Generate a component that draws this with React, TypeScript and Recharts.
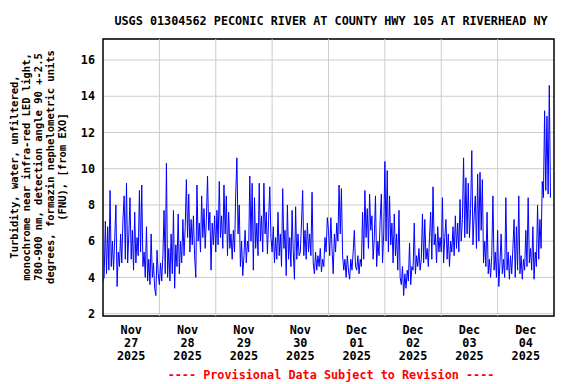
import {
  LineChart,
  Line,
  XAxis,
  YAxis,
  CartesianGrid,
  ReferenceLine,
  ReferenceArea,
} from "recharts";

const FONT = "'DejaVu Sans Mono', monospace";
const BLUE = "#0000ff";
const GRID = "#cccccc";

const TITLE = "USGS 01304562 PECONIC RIVER AT COUNTY HWY 105 AT RIVERHEAD NY";
const FOOTER = "---- Provisional Data Subject to Revision ----";
const Y_LABEL = [
  "Turbidity, water, unfiltered,",
  "monochrome near infra-red LED light,",
  "780-900 nm, detection angle 90 +-2.5",
  "degrees, formazin nephelometric units",
  "(FNU), [from EXO]",
];

// hours since Nov 27 00:00
const X_TICKS = [12, 36, 60, 84, 108, 132, 156, 180];
const DAY_LABELS = [
  ["Nov", "27", "2025"],
  ["Nov", "28", "2025"],
  ["Nov", "29", "2025"],
  ["Nov", "30", "2025"],
  ["Dec", "01", "2025"],
  ["Dec", "02", "2025"],
  ["Dec", "03", "2025"],
  ["Dec", "04", "2025"],
];
const MIDNIGHTS = [24, 48, 72, 96, 120, 144, 168];
const Y_TICKS = [2, 4, 6, 8, 10, 12, 14, 16];
const Y_MIN = 1.87;
const Y_MAX = 17.16;

// turbidity (FNU), one value per half hour
const NOV27 = [
  3.8, 4.0, 7.1, 4.2, 6.8, 4.4, 8.8, 4.6, 6.0, 4.4, 6.2, 8.0, 3.5, 5.4, 4.6, 6.4, 4.8, 7.2, 8.5, 5.0, 9.2, 4.8, 6.4, 8.4,
  5.0, 6.6, 4.4, 7.6, 4.8, 6.2, 5.2, 8.8, 5.4, 9.1, 4.6, 5.4, 4.0, 6.8, 3.8, 5.0, 3.6, 6.4, 4.0, 4.8, 3.4, 3.0, 5.5, 4.2,
];
const NOV28 = [
  3.6, 4.8, 3.8, 5.2, 7.7, 4.2, 10.3, 4.0, 5.6, 3.8, 6.4, 4.2, 7.7, 3.4, 5.8, 4.6, 7.5, 4.2, 6.0, 4.8, 7.2, 5.2, 6.8, 9.4,
  6.2, 8.6, 5.4, 7.2, 5.8, 7.4, 5.2, 4.0, 9.1, 6.0, 7.0, 5.4, 8.5, 6.2, 7.8, 5.6, 7.2, 9.6, 6.6, 7.6, 4.4, 7.0, 5.8, 7.4,
];
const NOV29 = [
  5.4, 7.7, 5.8, 9.3, 6.2, 7.4, 5.6, 9.1, 6.4, 8.5, 5.2, 7.6, 5.6, 6.4, 5.0, 6.6, 5.4, 8.6, 10.6, 6.4, 8.0, 4.6, 6.0, 4.1,
  5.2, 6.6, 4.8, 6.0, 5.4, 9.6, 6.0, 9.2, 4.4, 8.4, 5.6, 7.0, 5.2, 9.2, 6.0, 7.4, 5.4, 9.2, 6.4, 7.6, 5.3, 7.2, 9.0, 6.2,
];
const NOV30 = [
  5.4, 6.8, 4.8, 6.2, 5.0, 7.6, 5.2, 6.4, 4.6, 8.9, 5.6, 6.6, 4.1, 8.0, 5.0, 6.2, 4.6, 7.7, 5.4, 3.9, 7.9, 5.0, 6.4, 5.2,
  5.4, 7.0, 8.8, 5.2, 6.6, 5.0, 7.0, 5.4, 6.4, 5.2, 8.7, 4.8, 4.2, 5.4, 4.4, 5.2, 4.6, 5.6, 4.3, 5.0, 4.6, 6.2, 5.4, 7.3,
];
const DEC01 = [
  6.6, 5.2, 7.3, 5.6, 4.2, 6.4, 5.4, 7.0, 6.0, 9.1, 6.4, 8.9, 5.2, 4.4, 5.0, 4.0, 5.2, 4.4, 3.9, 5.0, 4.4, 5.4, 6.6, 4.6,
  4.4, 5.2, 4.2, 5.0, 4.6, 7.6, 5.0, 8.8, 6.2, 7.8, 5.6, 8.6, 6.6, 7.4, 5.0, 6.2, 8.5, 4.6, 6.0, 5.2, 7.2, 8.6, 4.8, 6.4,
];
const DEC02 = [
  10.4, 6.0, 9.9, 5.4, 8.5, 5.8, 7.0, 4.8, 7.5, 5.2, 6.4, 4.4, 7.7, 4.0, 3.6, 4.6, 3.0, 4.2, 3.4, 4.4, 3.8, 5.9, 3.6, 4.6,
  4.4, 7.0, 4.2, 5.2, 4.6, 5.6, 4.4, 5.0, 7.5, 4.8, 7.2, 5.0, 5.6, 4.6, 6.2, 7.6, 5.0, 9.0, 5.8, 6.4, 4.8, 6.8, 5.4, 6.2,
];
const DEC03 = [
  5.4, 8.4, 4.8, 6.2, 7.2, 5.0, 6.4, 4.6, 6.0, 5.4, 6.8, 5.2, 7.4, 5.6, 7.0, 5.4, 8.3, 6.0, 7.2, 10.6, 6.2, 9.5, 6.4, 9.2,
  6.2, 7.8, 11.0, 5.8, 7.4, 8.5, 5.6, 9.7, 6.0, 9.8, 6.6, 9.4, 4.8, 6.0, 4.6, 7.6, 4.2, 5.0, 4.0, 5.2, 8.5, 4.4, 5.4, 4.0,
];
const DEC04 = [
  6.6, 3.5, 4.8, 6.4, 4.2, 5.0, 4.0, 8.4, 4.4, 5.4, 3.9, 5.2, 4.2, 5.6, 7.2, 4.0, 6.8, 4.4, 8.5, 4.2, 5.2, 3.9, 5.0, 4.4,
  6.6, 4.6, 8.4, 4.8, 5.6, 4.4, 6.8, 3.9, 5.4, 4.6, 8.0, 5.0, 7.2, 5.6, 9.3, 8.4, 13.2, 8.8, 12.9, 8.6, 14.6, 8.4,
];
const DAYS = [NOV27, NOV28, NOV29, NOV30, DEC01, DEC02, DEC03, DEC04];

const data = DAYS.flatMap((vals, d) =>
  vals.map((v, i) => ({ h: d * 24 + i * 0.5, v }))
);

const textStyle = {
  fontFamily: FONT,
  fontSize: 11.8,
  fontWeight: "bold",
  fill: "#000",
} as const;

function DayTick({ x, y, payload }: any) {
  const lines = DAY_LABELS[X_TICKS.indexOf(payload.value)] ?? [];
  return (
    <text x={x} y={y} textAnchor="middle" {...textStyle}>
      {lines.map((t, k) => (
        <tspan key={k} x={x} y={y + 18 + 13 * k}>
          {t}
        </tspan>
      ))}
    </text>
  );
}

export default function App() {
  return (
    <div style={{ position: "absolute", left: 0, top: 0, width: 576, height: 384, background: "#fff" }}>
      <LineChart
        width={576}
        height={384}
        data={data}
        margin={{ top: 39, right: 22, bottom: 8, left: 63 }}
      >
        <CartesianGrid vertical={false} stroke={GRID} strokeWidth={1} />
        {MIDNIGHTS.map((m) => (
          <ReferenceLine key={m} x={m} stroke={GRID} strokeWidth={1} />
        ))}
        <XAxis
          dataKey="h"
          type="number"
          domain={[0, 192]}
          ticks={X_TICKS}
          interval={0}
          height={60}
          axisLine={false}
          tickLine={false}
          tickSize={0}
          tickMargin={0}
          tick={<DayTick />}
        />
        <YAxis
          type="number"
          domain={[Y_MIN, Y_MAX]}
          ticks={Y_TICKS}
          interval={0}
          width={40}
          axisLine={false}
          tickLine={false}
          tickSize={0}
          tickMargin={8}
          tick={textStyle}
        />
        <Line
          type="linear"
          dataKey="v"
          stroke={BLUE}
          strokeWidth={1}
          dot={false}
          isAnimationActive={false}
        />
        <ReferenceArea
          x1={0}
          x2={192}
          y1={Y_MIN}
          y2={Y_MAX}
          fill="none"
          stroke="#000"
          strokeWidth={1.5}
        />
      </LineChart>
      <svg
        width={576}
        height={384}
        style={{ position: "absolute", left: 0, top: 0, pointerEvents: "none" }}
      >
        <text x={331} y={25} textAnchor="middle" {...textStyle}>
          {TITLE}
        </text>
        <text
          transform="translate(18, 167) rotate(-90)"
          textAnchor="middle"
          {...textStyle}
          fontSize={10.5}
        >
          {Y_LABEL.map((t, k) => (
            <tspan key={k} x={0} y={12 * k}>
              {t}
            </tspan>
          ))}
        </text>
        <text x={331} y={379} textAnchor="middle" {...textStyle} fill="#ff0000">
          {FOOTER}
        </text>
      </svg>
    </div>
  );
}
